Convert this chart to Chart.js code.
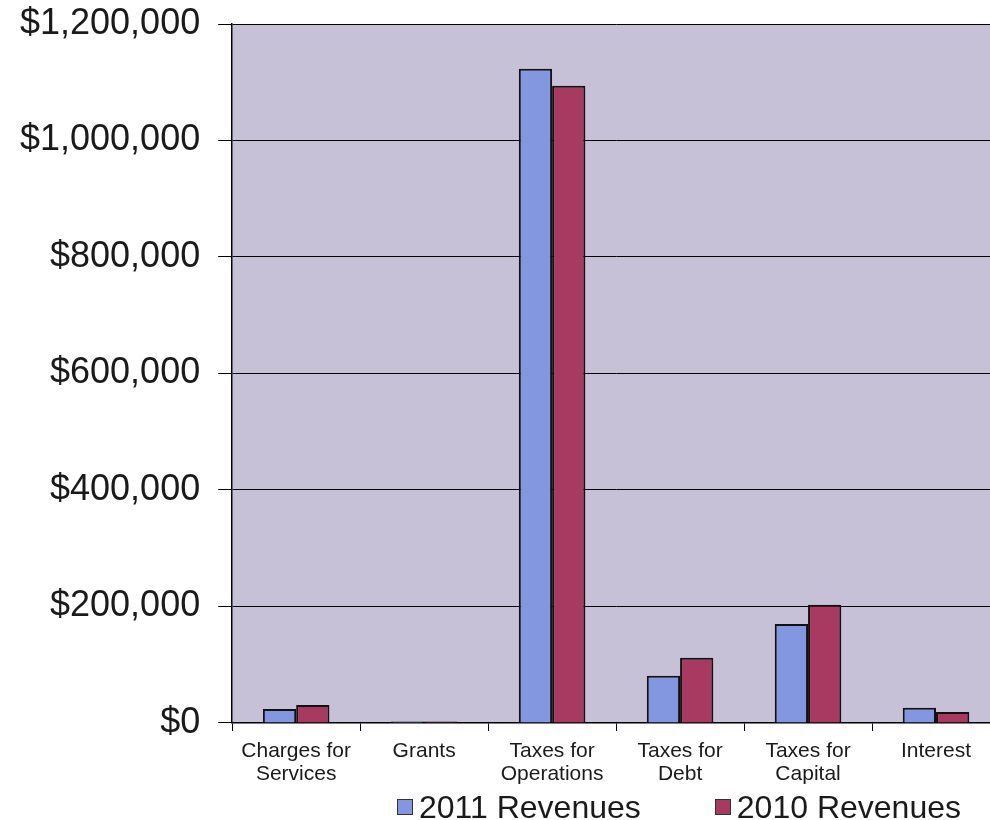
<!DOCTYPE html>
<html>
<head>
<meta charset="utf-8">
<title>Revenues 2011 vs 2010</title>
<script src="https://cdn.jsdelivr.net/npm/chart.js@4.4.1/dist/chart.umd.min.js"></script>
<style>
  html, body { margin: 0; padding: 0; background: #fff; overflow: hidden; }
  #wrap { position: relative; width: 1000px; height: 820px; }
  #legend {
    position: absolute; left: 397px; top: 791px;
    display: flex; align-items: center; white-space: nowrap; line-height: 1;
    font-family: "Liberation Sans", Arial, sans-serif; font-size: 32px; color: #1a1a1a;
  }
  .item { display: flex; align-items: center; margin-right: 74px; }
  .box { display: inline-block; width: 14px; height: 14px; border: 1.5px solid #333; margin-right: 6px; }
</style>
</head>
<body>
<div id="wrap">
  <canvas id="myChart" width="1000" height="820"></canvas>
  <div id="legend"></div>
</div>
<script>
const categories = [['Charges for', 'Services'], 'Grants', ['Taxes for', 'Operations'], ['Taxes for', 'Debt'], ['Taxes for', 'Capital'], 'Interest'];
const rev2011 = [24000, 2500, 1123000, 81000, 170000, 26000];
const rev2010 = [31000, 2500, 1094000, 112000, 203000, 19000];
const yTicks = [0, 200000, 400000, 600000, 800000, 1000000, 1200000];

const fontFamily = '"Liberation Sans", Arial, sans-serif';
const textColor = '#1a1a1a';

// light purple fill behind the plot
const plotBackground = {
    id: 'plotBackground',
    beforeDraw(chart) {
        const { ctx, chartArea } = chart;
        ctx.save();
        ctx.fillStyle = '#c6c1d6';
        ctx.fillRect(chartArea.left, chartArea.top, chartArea.width, chartArea.height);
        ctx.restore();
    }
};

function buildLegend(chart) {
    const legend = document.getElementById('legend');
    legend.innerHTML = '';
    chart.data.datasets.forEach(ds => {
        const item = document.createElement('div');
        item.className = 'item';
        const box = document.createElement('span');
        box.className = 'box';
        box.style.background = ds.backgroundColor;
        const label = document.createElement('span');
        label.textContent = ds.label;
        item.appendChild(box);
        item.appendChild(label);
        legend.appendChild(item);
    });
}

const ctx = document.getElementById('myChart').getContext('2d');
const myChart = new Chart(ctx, {
    type: 'bar',
    data: {
        labels: categories,
        datasets: [{
            label: '2011 Revenues',
            data: rev2011,
            backgroundColor: '#8396e0',
            borderColor: '#111',
            borderWidth: 2,
            categoryPercentage: 0.52,
            barPercentage: 1.0
        }, {
            label: '2010 Revenues',
            data: rev2010,
            backgroundColor: '#a83a62',
            borderColor: '#111',
            borderWidth: 2,
            categoryPercentage: 0.52,
            barPercentage: 1.0
        }]
    },
    options: {
        responsive: false,
        animation: false,
        layout: { padding: { left: 2, top: 0, right: 0, bottom: 26 } },
        plugins: {
            legend: { display: false },
            tooltip: { enabled: false }
        },
        scales: {
            x: {
                grid: { drawOnChartArea: false, color: '#000', tickLength: 8, offset: true },
                border: { color: '#000', width: 1.5 },
                ticks: {
                    color: textColor,
                    font: { family: fontFamily, size: 21, lineHeight: 1.12 },
                    padding: 8,
                    maxRotation: 0,
                    autoSkip: false
                }
            },
            y: {
                min: 0,
                max: 1200000,
                afterBuildTicks: axis => { axis.ticks = yTicks.map(v => ({ value: v })); },
                // top label only needs half its height above the plot
                afterFit: scale => { scale.paddingTop = 24; },
                grid: { color: '#000', lineWidth: 1, tickLength: 14 },
                border: { color: '#000', width: 1.5 },
                ticks: {
                    color: textColor,
                    font: { family: fontFamily, size: 36 },
                    padding: 18,
                    callback: v => '$' + v.toLocaleString('en-US')
                }
            }
        }
    },
    plugins: [plotBackground]
});

buildLegend(myChart);
</script>
</body>
</html>
